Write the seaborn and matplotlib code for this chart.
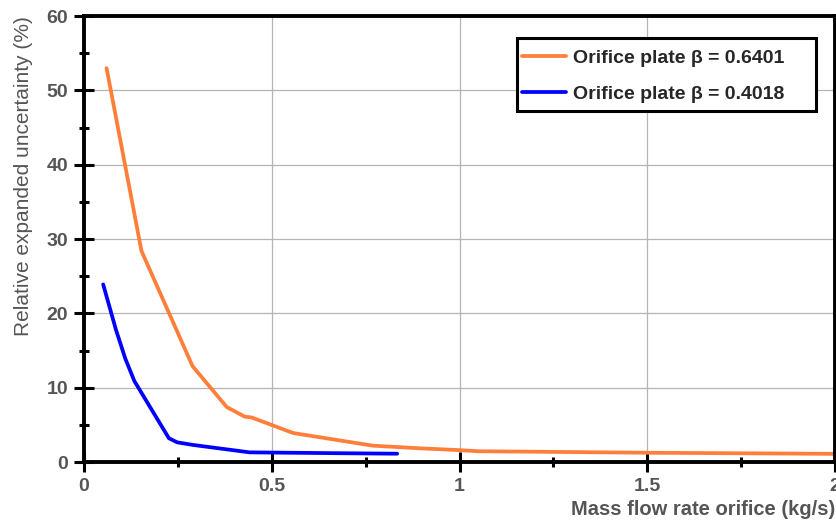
import matplotlib
matplotlib.use("Agg")
import matplotlib.pyplot as plt
from matplotlib.patches import Rectangle
from matplotlib.ticker import MultipleLocator, FuncFormatter
import seaborn as sns
import pandas as pd

# Expanded uncertainty versus mass flow rate for two orifice plates
flow_0640 = [0.060, 0.153, 0.289, 0.380, 0.428, 0.446, 0.557, 0.769, 0.892, 1.000, 1.050, 1.500, 2.000]
unc_0640 = [53.0, 28.4, 12.9, 7.4, 6.1, 6.0, 3.9, 2.2, 1.85, 1.6, 1.45, 1.25, 1.1]

flow_0402 = [0.051, 0.085, 0.110, 0.134, 0.226, 0.248, 0.290, 0.441, 0.690, 0.834]
unc_0402 = [23.9, 17.8, 13.9, 10.9, 3.2, 2.65, 2.3, 1.3, 1.18, 1.12]

series_labels = ["Orifice plate \u03b2 = 0.6401", "Orifice plate \u03b2 = 0.4018"]
series_colors = ["#FF7F3A", "#0000FF"]

x_label = "Mass flow rate orifice (kg/s)"
y_label = "Relative expanded uncertainty (%)"

df = pd.concat([
    pd.DataFrame({"flow": flow_0640, "unc": unc_0640, "plate": series_labels[0]}),
    pd.DataFrame({"flow": flow_0402, "unc": unc_0402, "plate": series_labels[1]}),
])

sns.set_style("white")
plt.rcParams["font.family"] = ["Liberation Sans", "DejaVu Sans"]

fig = plt.figure(figsize=(8.37, 5.2), dpi=100)
ax = fig.add_axes([0.1004, 0.1115, 0.8972, 0.8575])

sns.lineplot(data=df, x="flow", y="unc", hue="plate", hue_order=series_labels,
             palette=series_colors, sort=False, linewidth=2.7, ax=ax, legend=False)

ax.set_xlim(0, 2)
ax.set_ylim(0, 60)
ax.xaxis.set_major_locator(MultipleLocator(0.5))
ax.xaxis.set_minor_locator(MultipleLocator(0.25))
ax.yaxis.set_major_locator(MultipleLocator(10))
ax.yaxis.set_minor_locator(MultipleLocator(5))
ax.xaxis.set_major_formatter(FuncFormatter(lambda v, p: f"{v:g}"))

ax.grid(True, which="major", color="#b4b4b4", linewidth=0.9)
ax.set_axisbelow(True)

for s in ax.spines.values():
    s.set_linewidth(2.8)
    s.set_color("black")
    s.set_visible(True)

ax.tick_params(which="major", direction="inout", length=15, width=2.2, color="black",
               labelsize=14, labelcolor="#555555", pad=4)
ax.tick_params(which="minor", direction="inout", length=7, width=2.2, color="black")
ax.tick_params(axis="both", which="both", bottom=True, left=True, top=False, right=False)
for lbl in ax.get_xticklabels() + ax.get_yticklabels():
    lbl.set_fontweight("bold")

ax.set_xlabel(x_label, fontsize=14.5, color="#555555", fontweight="bold")
ax.xaxis.set_label_coords(1.0, -0.085)
ax.xaxis.label.set_horizontalalignment("right")
ax.set_ylabel(y_label, fontsize=15, color="#555555", fontweight="medium")
ax.yaxis.set_label_coords(-0.068, 0.641)

# legend entries without frame, then a separate box around them
handles = [plt.Line2D([], [], color=c, linewidth=2.7) for c in series_colors]
leg = ax.legend(handles, series_labels, loc="upper left", bbox_to_anchor=(0.5832, 0.926),
                frameon=False, handlelength=2.26, handletextpad=0.36,
                borderpad=0, borderaxespad=0, labelspacing=0.95,
                prop={"weight": "bold", "size": 14})
ax.add_patch(Rectangle((0.5766, 0.7868), 0.9747 - 0.5766, 0.9506 - 0.7868,
                       transform=ax.transAxes, facecolor="white", edgecolor="black",
                       linewidth=2.2, zorder=4))
leg.set_zorder(5)

fig.savefig("out.png", dpi=100)
